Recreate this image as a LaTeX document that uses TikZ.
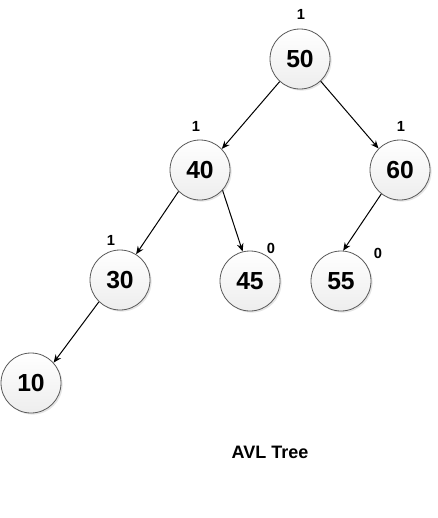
\documentclass[tikz,border=0pt]{standalone}
\usepackage{fontspec}
\setmainfont{Liberation Sans}
\usepackage{tikz}
\usetikzlibrary{arrows.meta,shadows}

\begin{document}
\begin{tikzpicture}[
    x=0.75pt, y=-0.75pt,
    every node/.style={font=\bfseries},
    treenode/.style={
      circle, draw=black!65, line width=0.6pt,
      top color=white, bottom color=gray!14,
      minimum size=45pt, inner sep=0pt,
      font=\fontsize{18.5}{21}\selectfont\bfseries,
      drop shadow={shadow xshift=1.2pt, shadow yshift=-1.2pt, fill=gray!45, opacity=0.45}
    },
    balance/.style={font=\fontsize{11}{13}\selectfont\bfseries},
    caption/.style={font=\fontsize{13.5}{15}\selectfont\bfseries},
    arrow/.style={-{Stealth[length=6pt,width=5pt]}, line width=0.75pt, black}
  ]
    \useasboundingbox (0,0) rectangle (437,518);

    \node[treenode] (n50) at (300,59)  {50};
    \node[treenode] (n40) at (200,170) {40};
    \node[treenode] (n60) at (400,170) {60};
    \node[treenode] (n30) at (120,280) {30};
    \node[treenode] (n45) at (250,281) {45};
    \node[treenode] (n55) at (341,281) {55};
    \node[treenode] (n10) at (31,383)  {10};

    \node[balance] (b50) at (301,14)  {1};
    \node[balance] (b40) at (196,126) {1};
    \node[balance] (b60) at (401,126) {1};
    \node[balance] (b30) at (111,240) {1};
    \node[balance] (b45) at (271,248) {0};
    \node[balance] (b55) at (378,253) {0};

    \node[caption] (title) at (270,452) {AVL Tree};

    \draw[arrow] (n50.-132) -- (n40.44);
    \draw[arrow] (n50.-47)  -- (n60.135);
    \draw[arrow] (n40.-135) -- (n30.58);
    \draw[arrow] (n40.-42)  -- (n45.104);
    \draw[arrow] (n60.-128) -- (n55.86);
    \draw[arrow] (n30.-134) -- (n10.42);

  \end{tikzpicture}
\end{document}
